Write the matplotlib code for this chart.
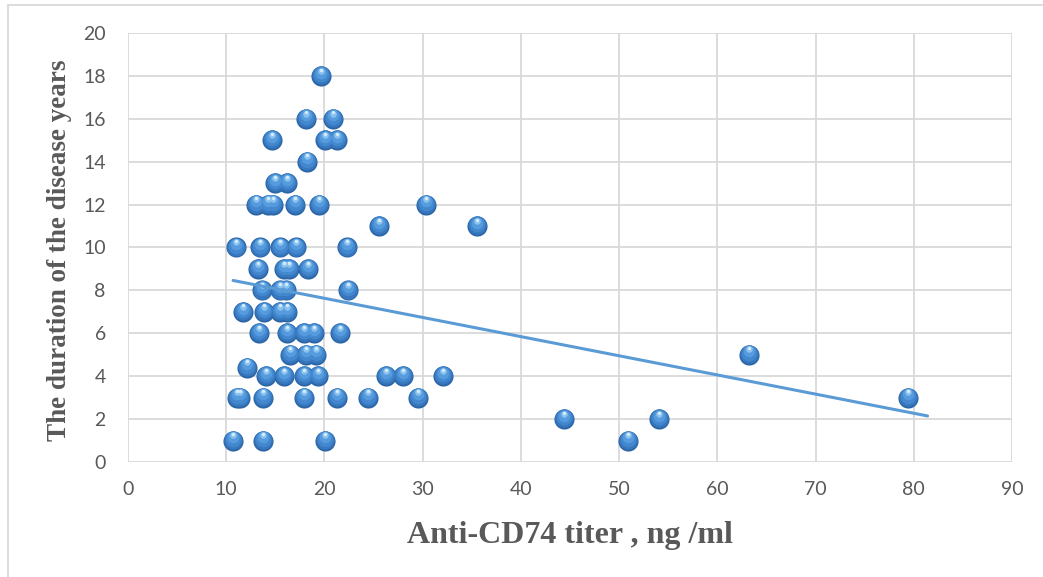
import numpy as np
import matplotlib.pyplot as plt
from matplotlib.patches import Rectangle
from matplotlib.transforms import offset_copy


#---Data (titer, years)
titer = [19.7,
         18.1, 20.9,
         14.7, 20.1, 21.3,
         18.2,
         15.0, 16.2,
         13.0, 14.3, 14.8, 17.0, 19.4, 30.3,
         25.6, 35.5,
         11.0, 13.4, 15.5, 17.1, 22.3,
         13.2, 15.9, 16.4, 18.3,
         13.6, 15.5, 16.1, 22.4,
         11.7, 13.8, 15.5, 16.2,
         13.3, 16.2, 17.9, 18.9, 21.6,
         16.5, 18.1, 19.1, 63.2,
         12.1,
         14.0, 15.9, 17.9, 19.3, 26.3, 28.0, 32.1,
         11.1, 11.4, 13.7, 17.9, 21.3, 24.4, 29.5, 79.4,
         44.4, 54.1,
         10.7, 13.7, 20.1, 50.9]
years = [18,
         16, 16,
         15, 15, 15,
         14,
         13, 13,
         12, 12, 12, 12, 12, 12,
         11, 11,
         10, 10, 10, 10, 10,
         9, 9, 9, 9,
         8, 8, 8, 8,
         7, 7, 7, 7,
         6, 6, 6, 6, 6,
         5, 5, 5, 5,
         4.4,
         4, 4, 4, 4, 4, 4, 4,
         3, 3, 3, 3, 3, 3, 3, 3,
         2, 2,
         1, 1, 1, 1]
x_ticks = list(range(0, 91, 10))
y_ticks = list(range(0, 21, 2))

GRID = '#D9D9D9'
TXT = '#595959'

fig = plt.figure(figsize=(10.43, 5.77), dpi=100)
ax = fig.add_axes([128/1043, 1-462/577, (1012-128)/1043, (462-33)/577])

#---Grid / axes
ax.set_xlim(0, 90)
ax.set_ylim(0, 20)
ax.set_xticks(x_ticks)
ax.set_yticks(y_ticks)
ax.grid(True, color=GRID, lw=1.3, zorder=0)
for s in ax.spines.values():
    s.set_visible(False)
ax.tick_params(length=0, labelcolor=TXT, labelsize=14)
ax.tick_params(axis='y', pad=16)
ax.tick_params(axis='x', pad=14)
for lab in ax.get_xticklabels() + ax.get_yticklabels():
    lab.set_family('Lato')

#---Shaded "3D" balls: stacked layers
layers = [(210, '#2B65A6', 0.0), (175, '#3777BD', 0.6), (125, '#4388CE', 1.4),
          (70, '#559BDD', 2.4), (22, '#8CC3EE', 3.8), (6, '#D3EBFB', 4.6)]
for size, col, dy in layers:
    tr = offset_copy(ax.transData, fig=fig, x=0, y=dy, units='points')
    ax.scatter(titer, years, s=size, c=col, linewidths=0, transform=tr, zorder=3)

#---Linear trendline (forward forecast of 2 units like Excel)
k, b = np.polyfit(titer, years, 1)
xl = np.array([min(titer), max(titer) + 2])
ax.plot(xl, k*xl + b, color='#5B9BD5', lw=2.2, zorder=4, solid_capstyle='round')

#---Labels
fig.text(570/1043, 1-543/577, 'Anti-CD74 titer , ng /ml', family='Liberation Serif',
         weight='bold', size=23, color=TXT, ha='center', va='baseline')
fig.text(60/1043, 1-250/577, 'The duration of the disease years', family='Liberation Serif',
         weight='bold', size=19.5, color=TXT, ha='center', va='center', rotation=90)

#---Chart area border
fig.patches.append(Rectangle((8/1043, -0.1), 1.2, 1-5/577+0.1, transform=fig.transFigure,
                             fill=False, edgecolor=GRID, lw=1.3))

plt.savefig('out.png', dpi=100)
